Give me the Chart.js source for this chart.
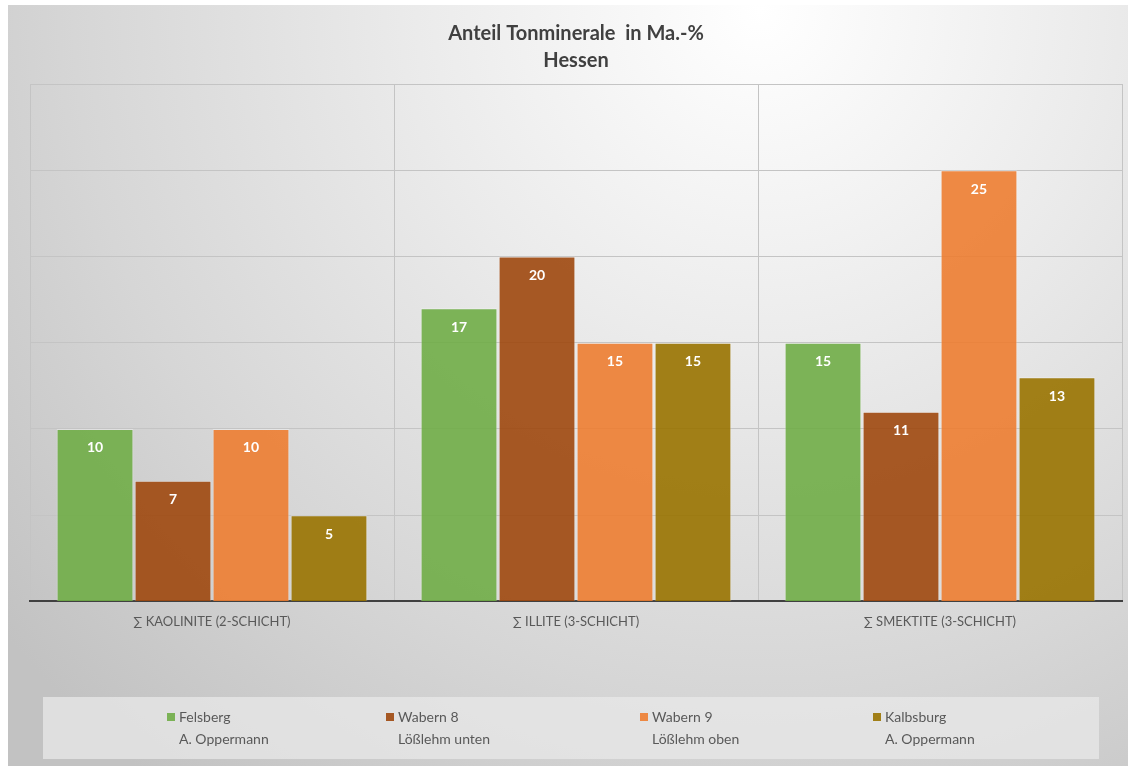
<!DOCTYPE html>
<html>
<head>
<meta charset="utf-8">
<script src="https://cdn.jsdelivr.net/npm/chart.js@4/dist/chart.umd.min.js"></script>
<style>
  html, body { margin: 0; padding: 0; background: #ffffff; }
  #wrap { width: 1136px; height: 766px; position: relative; }
</style>
</head>
<body>
<div id="wrap"><canvas id="c" width="1136" height="766"></canvas></div>
<script>
// Clay mineral shares (mass %) per sampling site
const categories = ['\u2211 KAOLINITE (2-SCHICHT)', '\u2211 ILLITE (3-SCHICHT)', '\u2211 SMEKTITE (3-SCHICHT)'];
const seriesNames = [
  ['Felsberg', 'A. Oppermann'],
  ['Wabern 8', 'Lößlehm unten'],
  ['Wabern 9', 'Lößlehm oben'],
  ['Kalbsburg', 'A. Oppermann']
];
const felsberg  = [10, 17, 15];
const wabern8   = [7, 20, 11];
const wabern9   = [10, 15, 25];
const kalbsburg = [5, 15, 13];
const seriesColors = ['rgba(112,173,71,0.9)', 'rgba(158,72,14,0.9)', 'rgba(237,125,49,0.9)', 'rgba(153,115,0,0.9)'];
const yMax = 30;
const yStep = 5;

const FONT = 'Lato, "Open Sans", sans-serif';

// Soft grey radial backdrop behind the whole chart
const backdrop = {
  id: 'backdrop',
  beforeDraw(chart) {
    const ctx = chart.ctx;
    ctx.save();
    ctx.fillStyle = '#ffffff';
    ctx.fillRect(0, 0, chart.width, chart.height);
    const g = ctx.createRadialGradient(760, 10, 0, 760, 10, 980);
    g.addColorStop(0, '#ffffff');
    g.addColorStop(0.35, '#ebebeb');
    g.addColorStop(0.7, '#d6d6d6');
    g.addColorStop(1, '#c2c2c2');
    ctx.fillStyle = g;
    ctx.fillRect(8, 5, 1120, 761);
    ctx.restore();
  }
};

// Value labels inside the top of each bar
const valueLabels = {
  id: 'valueLabels',
  afterDatasetsDraw(chart) {
    const ctx = chart.ctx;
    ctx.save();
    ctx.font = 'bold 14px ' + FONT;
    ctx.fillStyle = '#ffffff';
    ctx.textAlign = 'center';
    ctx.textBaseline = 'middle';
    chart.data.datasets.forEach((ds, i) => {
      const meta = chart.getDatasetMeta(i);
      meta.data.forEach((bar, j) => {
        ctx.fillText(String(ds.data[j]), bar.x, bar.y + 19);
      });
    });
    ctx.restore();
  }
};

// Two-line legend in a light panel under the axis
const panelLegend = {
  id: 'panelLegend',
  afterDraw(chart) {
    const ctx = chart.ctx;
    ctx.save();
    ctx.fillStyle = 'rgba(232,232,232,0.75)';
    ctx.fillRect(43, 697, 1056, 62);
    const starts = [167, 386, 640, 873];
    ctx.font = '14px ' + FONT;
    ctx.textBaseline = 'middle';
    ctx.textAlign = 'left';
    chart.data.datasets.forEach((ds, i) => {
      const x = starts[i];
      ctx.fillStyle = ds.backgroundColor;
      ctx.fillRect(x, 713, 8, 8);
      ctx.fillStyle = '#595959';
      ctx.fillText(ds.label[0], x + 12, 717);
      ctx.fillText(ds.label[1], x + 12, 739);
    });
    ctx.restore();
  }
};

const datasets = [felsberg, wabern8, wabern9, kalbsburg].map((vals, i) => ({
  label: seriesNames[i],
  data: vals,
  backgroundColor: seriesColors[i],
  borderColor: 'rgba(255,255,255,0.35)',
  borderWidth: 1,
  barPercentage: 0.985,
  categoryPercentage: 0.857
}));

new Chart(document.getElementById('c'), {
  type: 'bar',
  data: { labels: categories, datasets },
  plugins: [backdrop, valueLabels, panelLegend],
  options: {
    responsive: false,
    animation: false,
    devicePixelRatio: 1,
    layout: { padding: { left: 30, right: 14, top: 0, bottom: 123 } },
    plugins: {
      legend: { display: false },
      tooltip: { enabled: false },
      title: {
        display: true,
        text: ['Anteil Tonminerale  in Ma.-%', 'Hessen'],
        color: '#404040',
        font: { family: FONT, size: 20, weight: 'bold', lineHeight: 1.35 },
        padding: { top: 20, bottom: 10 }
      }
    },
    scales: {
      x: {
        grid: { display: true, offset: true, drawTicks: false, color: '#c4c4c4', lineWidth: 1 },
        border: { display: true, color: '#404040', width: 2 },
        ticks: { color: '#595959', font: { family: FONT, size: 13 }, padding: 13 }
      },
      y: {
        min: 0,
        max: yMax,
        ticks: { display: false, stepSize: yStep },
        grid: { drawTicks: false, color: '#c4c4c4', lineWidth: 1 },
        border: { display: false }
      }
    }
  }
});
</script>
</body>
</html>
